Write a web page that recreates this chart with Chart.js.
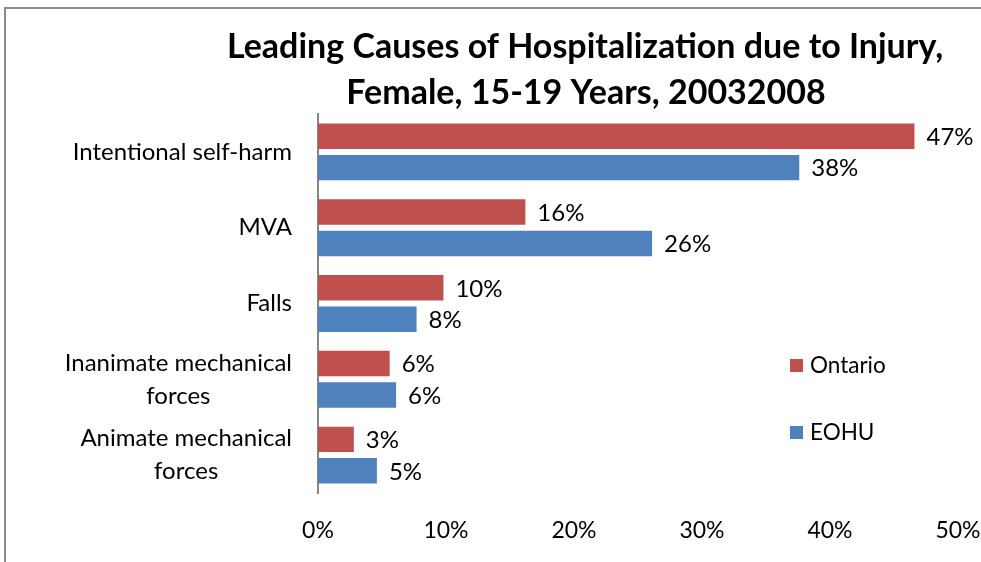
<!DOCTYPE html>
<html>
<head>
<meta charset="utf-8">
<script src="https://cdn.jsdelivr.net/npm/chart.js@4.4.1/dist/chart.umd.min.js"></script>
<style>
  html, body { margin: 0; padding: 0; background: #fff; }
  #wrap { width: 981px; height: 562px; position: relative; }
</style>
</head>
<body>
<div id="wrap"><canvas id="myChart" width="981" height="562"></canvas></div>
<script>
// values (percent)
const causes = [
	"Intentional self-harm",
	"MVA",
	"Falls",
	["Inanimate mechanical", "forces"],
	["Animate mechanical", "forces"]
];
const ontario = [46.6, 16.2, 9.8, 5.6, 2.8];
const eohu = [37.6, 26.1, 7.7, 6.1, 4.6];
const xTicks = [0, 10, 20, 30, 40, 50];
const titleLines = ["Leading Causes of Hospitalization due to Injury,", "Female, 15-19 Years, 20032008"];

const red = "#C0504D";
const blue = "#4F81BD";
const fontFamily = "Lato, 'Open Sans', sans-serif";

// frame, title, category labels, value labels and legend
const decorations = {
	id: "decorations",
	beforeDraw(chart) {
		const ctx = chart.ctx;
		ctx.save();
		ctx.fillStyle = "#fff";
		ctx.fillRect(0, 0, chart.width, chart.height);
		ctx.strokeStyle = "#8a8a8a";
		ctx.lineWidth = 2;
		ctx.beginPath();
		ctx.moveTo(5, chart.height);
		ctx.lineTo(5, 8);
		ctx.lineTo(chart.width, 8);
		ctx.stroke();
		ctx.restore();
	},
	afterDraw(chart) {
		const ctx = chart.ctx;
		const yScale = chart.scales.y;
		ctx.save();

		// title
		ctx.fillStyle = "#000";
		ctx.textAlign = "center";
		ctx.textBaseline = "middle";
		ctx.font = "bold 34px " + fontFamily;
		ctx.fillText(titleLines[0], 585, 47);
		ctx.fillText(titleLines[1], 586, 93);

		// category labels, each line centred inside a right aligned block
		ctx.font = "24px " + fontFamily;
		causes.forEach((label, i) => {
			const lines = Array.isArray(label) ? label : [label];
			const maxW = Math.max(...lines.map(l => ctx.measureText(l).width));
			const cx = 292 - maxW / 2;
			const cy = yScale.getPixelForTick(i);
			const lh = 33;
			lines.forEach((l, j) => {
				ctx.fillText(l, cx, cy + (j - (lines.length - 1) / 2) * lh);
			});
		});

		// value labels
		ctx.textAlign = "left";
		ctx.font = "24px " + fontFamily;
		chart.data.datasets.forEach((ds, di) => {
			chart.getDatasetMeta(di).data.forEach((bar, i) => {
				ctx.fillText(Math.round(ds.data[i]) + "%", bar.x + 12, bar.y + 1);
			});
		});

		// legend
		ctx.font = "22.5px " + fontFamily;
		const items = [[chart.data.datasets[0], 365], [chart.data.datasets[1], 432]];
		items.forEach(([ds, y]) => {
			ctx.fillStyle = ds.backgroundColor;
			ctx.fillRect(790, y - 6, 13, 13);
			ctx.fillStyle = "#000";
			ctx.fillText(ds.label, 810, y + 1);
		});
		ctx.restore();
	}
};

new Chart(document.getElementById("myChart"), {
	type: "bar",
	data: {
		labels: causes,
		datasets: [
			{ label: "Ontario", data: ontario, backgroundColor: red },
			{ label: "EOHU", data: eohu, backgroundColor: blue }
		]
	},
	options: {
		indexAxis: "y",
		responsive: false,
		animation: false,
		categoryPercentage: 0.83,
		barPercentage: 0.81,
		layout: { padding: { left: 0, top: 114, right: 23, bottom: 0 } },
		plugins: {
			legend: { display: false },
			title: { display: false },
			tooltip: { enabled: false }
		},
		scales: {
			x: {
				min: 0,
				max: 50,
				afterBuildTicks: scale => { scale.ticks = xTicks.map(v => ({ value: v })); },
				afterFit: scale => {
					scale.height = 69;
					scale.paddingLeft = 0;
					scale.paddingRight = 0;
				},
				grid: { display: false, drawTicks: false },
				border: { display: false },
				ticks: {
					padding: 24,
					color: "#000",
					font: { family: fontFamily, size: 23 },
					callback: v => v + "%"
				}
			},
			y: {
				afterFit: scale => { scale.width = 318; },
				grid: { display: false, drawTicks: false },
				border: { display: true, color: "#868686", width: 2 },
				ticks: { color: "rgba(0,0,0,0)", font: { family: fontFamily, size: 21 } }
			}
		}
	},
	plugins: [decorations]
});
</script>
</body>
</html>
